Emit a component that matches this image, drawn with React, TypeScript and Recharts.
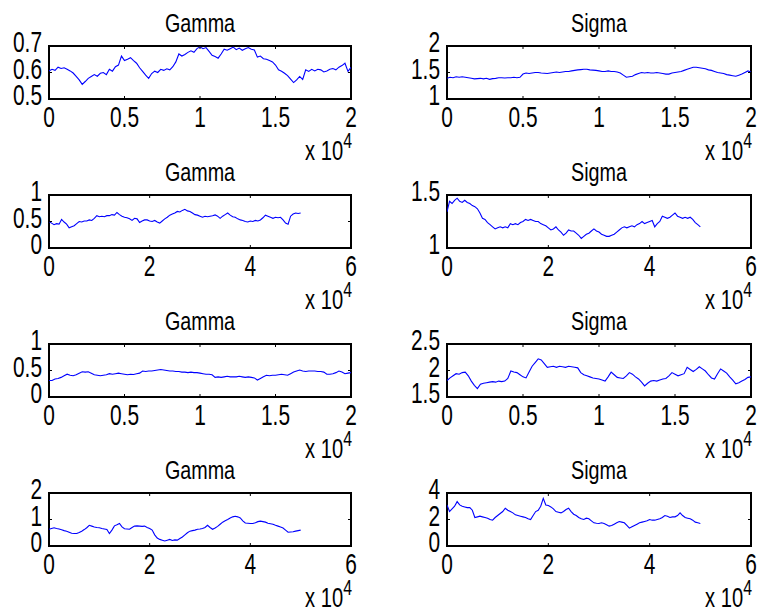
import React from "react";
import { LineChart, Line, XAxis, YAxis, ReferenceArea } from "recharts";

// Trace values, one sample every `step` iterations.
const gammaA: number[] = [
  0.606, 0.612, 0.608, 0.62, 0.615, 0.618, 0.612, 0.606, 0.598, 0.585,
  0.572, 0.555, 0.566, 0.578, 0.585, 0.592, 0.586, 0.597, 0.6, 0.592,
  0.612, 0.605, 0.622, 0.628, 0.662, 0.645, 0.65, 0.656, 0.645, 0.635,
  0.618, 0.604, 0.59, 0.578, 0.596, 0.605, 0.6, 0.612, 0.608, 0.614,
  0.61, 0.622, 0.64, 0.67, 0.662, 0.668, 0.676, 0.682, 0.676, 0.69,
  0.697, 0.69, 0.694, 0.68, 0.665, 0.66, 0.654, 0.67, 0.688, 0.684,
  0.69, 0.696, 0.686, 0.692, 0.684, 0.69, 0.694, 0.688, 0.685, 0.658,
  0.662, 0.652, 0.65, 0.645, 0.64, 0.628, 0.61, 0.605, 0.597, 0.588,
  0.575, 0.562, 0.572, 0.585, 0.574, 0.61, 0.604, 0.612, 0.606, 0.612,
  0.61, 0.602, 0.606, 0.612, 0.615, 0.61, 0.62, 0.626, 0.635, 0.604, 0.62,
];
const sigmaA: number[] = [
  1.39, 1.41, 1.4, 1.42, 1.41, 1.42, 1.41, 1.4, 1.39, 1.38,
  1.385, 1.39, 1.38, 1.39, 1.37, 1.385, 1.39, 1.4, 1.4, 1.395,
  1.4, 1.4, 1.41, 1.4, 1.41, 1.47, 1.49, 1.48, 1.49, 1.5,
  1.5, 1.49, 1.485, 1.48, 1.49, 1.5, 1.51, 1.5, 1.51, 1.52,
  1.52, 1.53, 1.54, 1.55, 1.555, 1.56, 1.56, 1.55, 1.545, 1.54,
  1.53, 1.52, 1.52, 1.53, 1.52, 1.52, 1.51, 1.49, 1.45, 1.41,
  1.42, 1.43, 1.46, 1.48, 1.5, 1.49, 1.5, 1.49, 1.49, 1.5,
  1.49, 1.48, 1.47, 1.47, 1.49, 1.5, 1.51, 1.52, 1.54, 1.56,
  1.58, 1.6, 1.6, 1.59, 1.58, 1.57, 1.55, 1.54, 1.52, 1.5,
  1.49, 1.48, 1.46, 1.45, 1.44, 1.43, 1.45, 1.47, 1.5, 1.53, 1.51,
];
const gammaB: number[] = [
  0.5, 0.47, 0.44, 0.46, 0.45, 0.54, 0.49, 0.45, 0.38, 0.4,
  0.42, 0.46, 0.5, 0.49, 0.51, 0.51, 0.53, 0.52, 0.56, 0.61,
  0.59, 0.6, 0.59, 0.61, 0.61, 0.63, 0.62, 0.67, 0.63, 0.6,
  0.58, 0.57, 0.55, 0.52, 0.56, 0.55, 0.48, 0.51, 0.53, 0.53,
  0.51, 0.5, 0.52, 0.49, 0.47, 0.51, 0.55, 0.58, 0.62, 0.64,
  0.66, 0.69, 0.68, 0.71, 0.73, 0.7, 0.69, 0.66, 0.63, 0.62,
  0.6, 0.58, 0.6, 0.59, 0.6, 0.61, 0.625, 0.6, 0.56, 0.6,
  0.63, 0.66, 0.62, 0.59, 0.58, 0.55, 0.53, 0.52, 0.5, 0.49,
  0.51, 0.5, 0.52, 0.51, 0.53, 0.57, 0.62, 0.6, 0.58, 0.56,
  0.58, 0.57, 0.58, 0.53, 0.47, 0.45, 0.6, 0.64, 0.66, 0.65, 0.66,
];
const sigmaB: number[] = [
  1.34, 1.44, 1.42, 1.45, 1.47, 1.44, 1.43, 1.45, 1.43, 1.42,
  1.4, 1.39, 1.37, 1.33, 1.28, 1.27, 1.24, 1.22, 1.2, 1.18,
  1.19, 1.2, 1.19, 1.2, 1.19, 1.23, 1.22, 1.23, 1.22, 1.24,
  1.25, 1.27, 1.26, 1.27, 1.26, 1.25, 1.25, 1.23, 1.22, 1.21,
  1.19, 1.17, 1.18, 1.2, 1.17, 1.15, 1.12, 1.14, 1.17, 1.16,
  1.16, 1.14, 1.12, 1.09, 1.11, 1.13, 1.14, 1.16, 1.18, 1.16,
  1.15, 1.13, 1.12, 1.11, 1.11, 1.12, 1.13, 1.15, 1.17, 1.19,
  1.2, 1.19, 1.2, 1.21, 1.2, 1.22, 1.23, 1.25, 1.23, 1.24,
  1.25, 1.26, 1.2, 1.23, 1.25, 1.3, 1.29, 1.28, 1.29, 1.31,
  1.33, 1.3, 1.29, 1.28, 1.29, 1.28, 1.29, 1.27, 1.24, 1.22, 1.2,
];
const gammaC: number[] = [
  0.31, 0.31, 0.34, 0.35, 0.37, 0.4, 0.43, 0.41, 0.4, 0.42,
  0.45, 0.475, 0.47, 0.475, 0.45, 0.42, 0.41, 0.4, 0.41, 0.42,
  0.44, 0.43, 0.44, 0.45, 0.44, 0.43, 0.42, 0.43, 0.425, 0.44,
  0.45, 0.49, 0.48, 0.49, 0.49, 0.5, 0.51, 0.52, 0.51, 0.5,
  0.49, 0.49, 0.48, 0.48, 0.47, 0.47, 0.46, 0.47, 0.46, 0.46,
  0.45, 0.44, 0.43, 0.43, 0.42, 0.37, 0.38, 0.37, 0.38, 0.39,
  0.38, 0.38, 0.38, 0.39, 0.38, 0.37, 0.38, 0.37, 0.36, 0.32,
  0.35, 0.38, 0.41, 0.4, 0.41, 0.41, 0.42, 0.43, 0.42, 0.41,
  0.44, 0.47, 0.49, 0.51, 0.49, 0.48, 0.49, 0.49, 0.49, 0.48,
  0.48, 0.47, 0.43, 0.43, 0.44, 0.46, 0.49, 0.47, 0.44, 0.45, 0.46,
];
const sigmaC: number[] = [
  1.81, 1.86, 1.9, 1.94, 1.93, 1.96, 1.97, 1.9, 1.8, 1.72,
  1.66, 1.74, 1.76, 1.77, 1.78, 1.79, 1.78, 1.8, 1.79, 1.8,
  1.85, 1.99, 1.97, 1.96, 1.92, 1.88, 1.86, 1.97, 2.08, 2.15,
  2.22, 2.2, 2.13, 2.06, 2.07, 2.08, 2.06, 2.08, 2.07, 2.06,
  2.08, 2.07, 2.06, 2.05, 1.96, 1.92, 1.9, 1.88, 1.86, 1.85,
  1.84, 1.82, 1.8, 1.88, 1.97, 1.92, 1.87, 1.86, 1.85, 1.9,
  1.96, 1.93, 1.88, 1.84, 1.78, 1.71, 1.76, 1.8, 1.81, 1.8,
  1.82, 1.84, 1.85, 1.9, 1.96, 1.93, 1.9, 1.92, 1.94, 2.06,
  2.02, 1.98, 2.02, 2.07, 2.03, 1.99, 1.92, 1.86, 1.84, 1.94,
  2.03, 1.99, 1.95, 1.88, 1.82, 1.75, 1.77, 1.8, 1.83, 1.87, 1.88,
];
const gammaD: number[] = [
  0.63, 0.66, 0.69, 0.66, 0.64, 0.61, 0.58, 0.56, 0.52, 0.48,
  0.47, 0.47, 0.51, 0.56, 0.62, 0.69, 0.78, 0.75, 0.72, 0.7,
  0.69, 0.66, 0.64, 0.62, 0.47, 0.6, 0.76, 0.8, 0.85, 0.72,
  0.65, 0.64, 0.63, 0.7, 0.75, 0.76, 0.75, 0.74, 0.75, 0.7,
  0.66, 0.6, 0.42, 0.3, 0.25, 0.22, 0.19, 0.22, 0.25, 0.21,
  0.23, 0.22, 0.28, 0.34, 0.42, 0.5, 0.56, 0.58, 0.6, 0.63,
  0.64, 0.66, 0.7, 0.78, 0.7, 0.63, 0.68, 0.74, 0.82, 0.9,
  0.95, 1.0, 1.06, 1.1, 1.12, 1.1, 1.06, 0.95, 0.87, 0.86,
  0.85, 0.85, 0.88, 0.92, 0.94, 0.92, 0.9, 0.86, 0.84, 0.82,
  0.78, 0.75, 0.72, 0.68, 0.6, 0.52, 0.53, 0.54, 0.56, 0.58, 0.6,
];
const sigmaD: number[] = [
  3.1, 2.6, 2.8, 3.0, 3.35, 3.1, 3.0, 2.95, 2.9, 2.9,
  2.7, 2.15, 2.2, 2.25, 2.2, 2.15, 2.1, 2.0, 1.95, 2.15,
  2.3, 2.45, 2.6, 2.85, 2.7, 2.6, 2.5, 2.35, 2.3, 2.25,
  2.2, 2.15, 2.05, 2.0, 2.3, 2.6, 2.7, 3.0, 3.6, 3.1,
  3.05, 2.95, 2.8, 2.6, 2.55, 2.5, 2.6, 2.75, 2.85, 2.6,
  2.4, 2.3, 2.15, 2.05, 2.0, 2.1, 2.05, 1.9, 1.75, 1.72,
  1.7, 1.75, 1.7, 1.6, 1.5, 1.55, 1.65, 1.75, 1.85, 1.8,
  1.75, 1.55, 1.35, 1.45, 1.55, 1.65, 1.75, 1.8, 1.85, 1.9,
  2.0, 1.95, 1.95, 2.0, 2.05, 2.15, 2.3, 2.25, 2.15, 2.2,
  2.2, 2.3, 2.5, 2.3, 2.15, 2.1, 2.05, 1.95, 1.8, 1.75, 1.7,
];

// Axis ticks
const xTicksShort = [0, 5000, 10000, 15000, 20000];
const xTicksLong = [0, 20000, 40000, 60000];

type Panel = {
  title: string;
  values: number[];
  step: number;
  xMax: number;
  xTicks: number[];
  yDomain: [number, number];
  yTicks: number[];
};

const panels: Panel[] = [
  { title: "Gamma", values: gammaA, step: 200, xMax: 20000, xTicks: xTicksShort, yDomain: [0.5, 0.7], yTicks: [0.5, 0.6, 0.7] },
  { title: "Sigma", values: sigmaA, step: 200, xMax: 20000, xTicks: xTicksShort, yDomain: [1, 2], yTicks: [1, 1.5, 2] },
  { title: "Gamma", values: gammaB, step: 500, xMax: 60000, xTicks: xTicksLong, yDomain: [0, 1], yTicks: [0, 0.5, 1] },
  { title: "Sigma", values: sigmaB, step: 500, xMax: 60000, xTicks: xTicksLong, yDomain: [1, 1.5], yTicks: [1, 1.5] },
  { title: "Gamma", values: gammaC, step: 200, xMax: 20000, xTicks: xTicksShort, yDomain: [0, 1], yTicks: [0, 0.5, 1] },
  { title: "Sigma", values: sigmaC, step: 200, xMax: 20000, xTicks: xTicksShort, yDomain: [1.5, 2.5], yTicks: [1.5, 2, 2.5] },
  { title: "Gamma", values: gammaD, step: 500, xMax: 60000, xTicks: xTicksLong, yDomain: [0, 2], yTicks: [0, 1, 2] },
  { title: "Sigma", values: sigmaD, step: 500, xMax: 60000, xTicks: xTicksLong, yDomain: [0, 4], yTicks: [0, 2, 4] },
];

const FONT = "'Liberation Sans', Arial, Helvetica, sans-serif";
const SQUEEZE = 0.72;
const ROW_TOPS = [46, 195, 344, 493];
const PLOT_H = 53;
const CHART_H = 168;
const TICK_LEN = 3;

// Column geometry: chart offset/width and the plot margins inside it
type ColLayout = { left: number; width: number; mLeft: number; mRight: number };
const COLS: ColLayout[] = [
  { left: 0, width: 378, mLeft: 49, mRight: 27 },
  { left: 378, width: 379, mLeft: 69, mRight: 6 },
];

const XTick = (props: any) => {
  const { x, y, payload, index, plotW, title, isLast } = props;
  const label = String(payload.value / 10000);
  return (
    <g>
      <line x1={x} y1={y} x2={x} y2={y - TICK_LEN} stroke="#000" strokeWidth={1} />
      <line x1={x} y1={y - PLOT_H} x2={x} y2={y - PLOT_H + TICK_LEN} stroke="#000" strokeWidth={1} />
      <text
        transform={`translate(${x},${y + 28}) scale(${SQUEEZE},1)`}
        textAnchor="middle"
        fontSize={29}
        fontFamily={FONT}
        fill="#000"
      >
        {label}
      </text>
      {index === 0 && (
        <text
          transform={`translate(${x + plotW / 2},${y - PLOT_H - 14}) scale(0.79,1)`}
          textAnchor="middle"
          fontSize={25}
          fontFamily={FONT}
          fill="#000"
        >
          {title}
        </text>
      )}
      {isLast && (
        <text
          transform={`translate(${x + 1},${y + 61}) scale(${SQUEEZE},1)`}
          textAnchor="end"
          fontSize={28}
          fontFamily={FONT}
          fill="#000"
        >
          x 10
          <tspan dy={-12} fontSize={22}>4</tspan>
        </text>
      )}
    </g>
  );
};

const YTick = (props: any) => {
  const { x, y, payload, plotW } = props;
  return (
    <g>
      <line x1={x} y1={y} x2={x + TICK_LEN} y2={y} stroke="#000" strokeWidth={1} />
      <line x1={x + plotW} y1={y} x2={x + plotW - TICK_LEN} y2={y} stroke="#000" strokeWidth={1} />
      <text
        transform={`translate(${x - 7},${y + 6}) scale(${SQUEEZE},1)`}
        textAnchor="end"
        fontSize={29}
        fontFamily={FONT}
        fill="#000"
      >
        {String(payload.value)}
      </text>
    </g>
  );
};

const TracePanel = ({ panel, row, col }: { panel: Panel; row: number; col: number }) => {
  const c = COLS[col];
  const plotW = c.width - c.mLeft - c.mRight;
  const data = panel.values.map((v, i) => ({ it: i * panel.step, v }));
  const lastTick = panel.xTicks[panel.xTicks.length - 1];
  // axes take 1px each, so the margins are reduced by that amount
  return (
    <div style={{ position: "absolute", left: c.left, top: ROW_TOPS[row] - 46 }}>
      <LineChart
        width={c.width}
        height={CHART_H}
        data={data}
        margin={{ top: 46, left: c.mLeft - 1, right: c.mRight, bottom: CHART_H - 46 - PLOT_H - 1 }}
      >
        <XAxis
          dataKey="it"
          type="number"
          domain={[0, panel.xMax]}
          ticks={panel.xTicks}
          interval={0}
          height={1}
          tickSize={0}
          tickMargin={0}
          axisLine={false}
          tickLine={false}
          allowDataOverflow
          tick={(p: any) => (
            <XTick {...p} plotW={plotW} title={panel.title} isLast={p.payload.value === lastTick} />
          )}
        />
        <YAxis
          type="number"
          domain={panel.yDomain}
          ticks={panel.yTicks}
          interval={0}
          width={1}
          tickSize={0}
          tickMargin={0}
          axisLine={false}
          tickLine={false}
          allowDataOverflow
          tick={(p: any) => <YTick {...p} x={p.x} plotW={plotW} />}
        />
        <Line
          type="linear"
          dataKey="v"
          stroke="#0000ff"
          strokeWidth={1.1}
          dot={false}
          isAnimationActive={false}
        />
        <ReferenceArea
          x1={0}
          x2={panel.xMax}
          y1={panel.yDomain[0]}
          y2={panel.yDomain[1]}
          fill="none"
          fillOpacity={0}
          stroke="#000"
          strokeWidth={2}
          ifOverflow="visible"
        />
      </LineChart>
    </div>
  );
};

export default function App() {
  return (
    <div
      style={{
        position: "absolute",
        left: 0,
        top: 0,
        width: 757,
        height: 614,
        background: "#fff",
        overflow: "hidden",
      }}
    >
      {panels.map((p, i) => (
        <TracePanel key={i} panel={p} row={Math.floor(i / 2)} col={i % 2} />
      ))}
    </div>
  );
}
